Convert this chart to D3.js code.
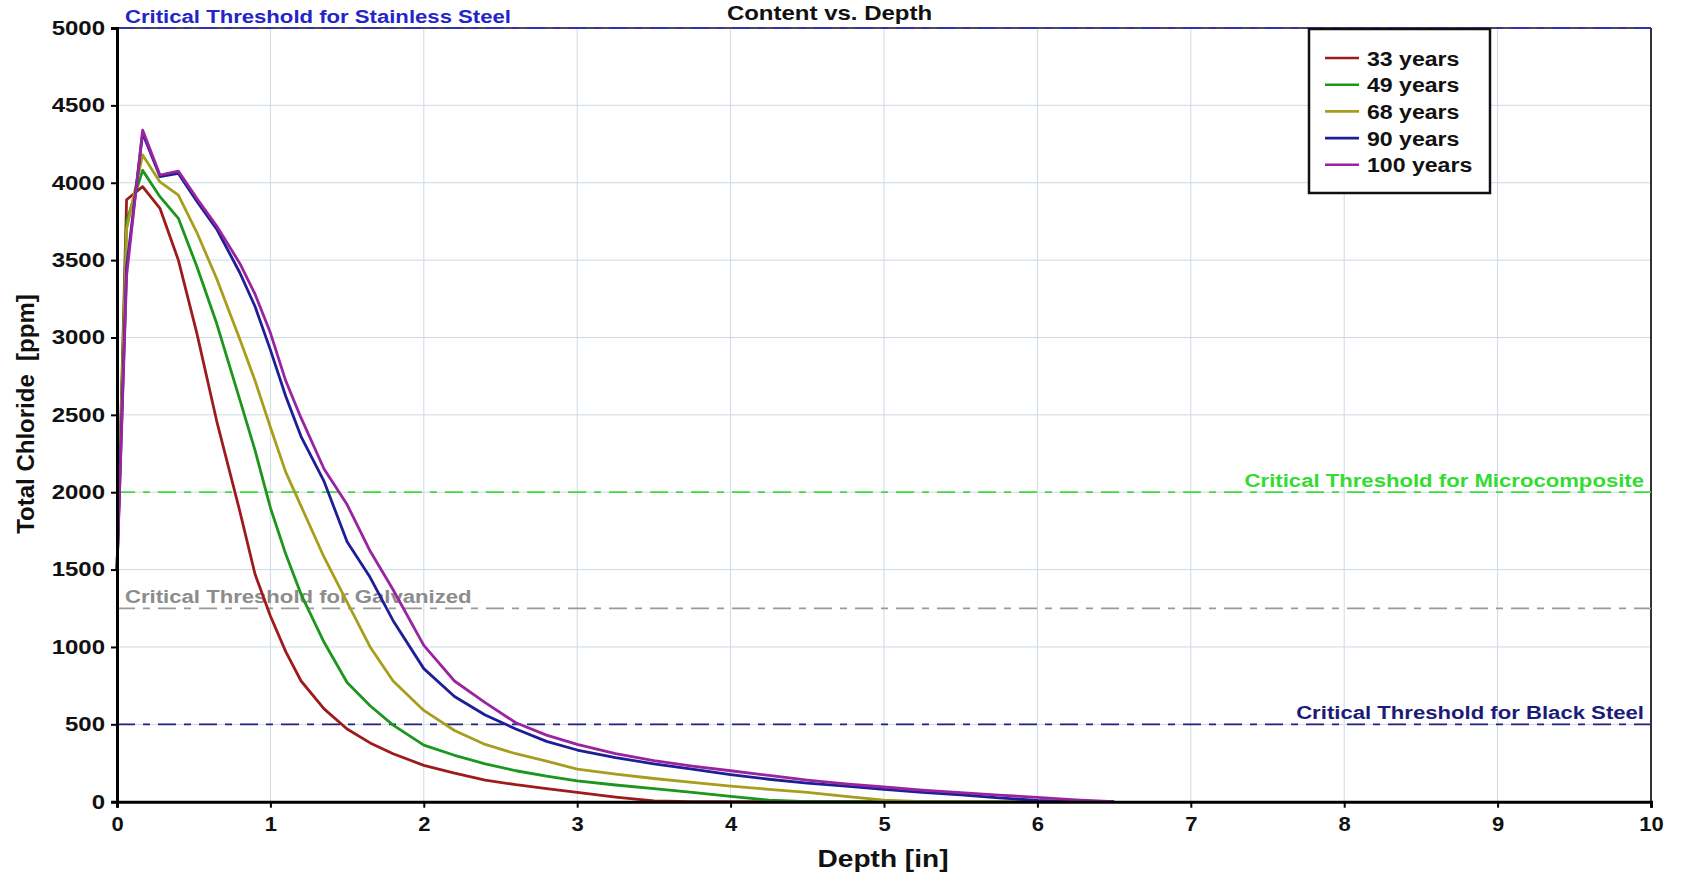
<!DOCTYPE html>
<html>
<head>
<meta charset="utf-8">
<title>Total Chloride Content vs. Depth</title>
<script src="https://d3js.org/d3.v7.min.js"></script>
<style>
  body { margin: 0; background: #fff; }
  text { font-family: Arial, "Liberation Sans", sans-serif; font-weight: bold; }
</style>
</head>
<body>
<script>
// depth nodes [in] shared by every curve
var depth = [0, 0.0625, 0.167, 0.28, 0.4, 0.52, 0.65, 0.8, 0.9, 1.0,
             1.1, 1.2, 1.35, 1.5, 1.65, 1.8, 2.0, 2.2, 2.4, 2.6,
             2.8, 3.0, 3.25, 3.5, 3.75, 4.0, 4.25, 4.5, 4.75, 5.0,
             5.25, 5.5, 5.75, 6.0, 6.25, 6.5];

// total chloride [ppm]
var chloride33 = [1500, 3890, 3975, 3835, 3500, 3030, 2460, 1880, 1470, 1200,
                  970, 780, 600, 470, 380, 310, 235, 185, 140, 110,
                  85, 60, 30, 5, 0, 0, 0, 0, 0, 0,
                  0, 0, 0, 0, 0, 0];
var chloride49 = [1500, 3750, 4080, 3910, 3770, 3460, 3090, 2600, 2270, 1900,
                  1600, 1340, 1030, 770, 620, 495, 366, 300, 245, 200,
                  165, 135, 108, 85, 60, 35, 10, 0, 0, 0,
                  0, 0, 0, 0, 0, 0];
var chloride68 = [1500, 3700, 4180, 4005, 3920, 3680, 3380, 2990, 2720, 2420,
                  2130, 1910, 1580, 1290, 1000, 780, 590, 460, 370, 310,
                  262, 210, 178, 150, 125, 100, 80, 60, 35, 10,
                  0, 0, 0, 0, 0, 0];
var chloride90 = [1500, 3450, 4320, 4040, 4060, 3880, 3700, 3420, 3200, 2920,
                  2620, 2360, 2070, 1680, 1450, 1170, 860, 680, 560, 470,
                  390, 334, 285, 245, 210, 175, 145, 120, 100, 80,
                  60, 45, 25, 8, 0, 0];
var chloride100 = [1500, 3400, 4340, 4050, 4075, 3900, 3720, 3480, 3280, 3030,
                   2720, 2480, 2150, 1920, 1620, 1370, 1010, 780, 640, 510,
                   430, 370, 310, 265, 230, 200, 170, 140, 115, 95,
                   75, 58, 42, 28, 12, 0];

var seriesNames = ["33 years", "49 years", "68 years", "90 years", "100 years"];
var seriesColors = ["#9e1b1b", "#1c961c", "#a89e1e", "#1e1e96", "#9a24a0"];

var thresholdNames = ["Critical Threshold for Stainless Steel",
                      "Critical Threshold for Microcomposite",
                      "Critical Threshold for Galvanized",
                      "Critical Threshold for Black Steel"];
var thresholdValues = [5000, 2000, 1250, 500];

var xTicks = [0, 1, 2, 3, 4, 5, 6, 7, 8, 9, 10];
var yTicks = [0, 500, 1000, 1500, 2000, 2500, 3000, 3500, 4000, 4500, 5000];

// canvas
var canvasX = 1685;
var canvasY = 880;
var plotLeft = 117, plotRight = 1651, plotTop = 28, plotBottom = 801.7;

var svg = d3.select("body").append("svg")
    .attr("width", canvasX)
    .attr("height", canvasY);

var scaleX = d3.scaleLinear().domain([0, 10]).range([plotLeft, plotRight]);
var scaleY = d3.scaleLinear().domain([0, 5000]).range([plotBottom, plotTop]);

// the original picture is stretched sideways, so is its text
function addText(x, y, str, size, anchor, color, sx) {
    return svg.append("text")
        .attr("transform", "translate(" + x + "," + y + ") scale(" + sx + ",1)")
        .attr("text-anchor", anchor)
        .attr("font-size", size)
        .attr("fill", color)
        .text(str);
}

// grid
svg.append("g").selectAll("line")
    .data(xTicks.slice(1, -1))
    .enter().append("line")
    .attr("x1", function(d) { return scaleX(d); })
    .attr("x2", function(d) { return scaleX(d); })
    .attr("y1", plotTop).attr("y2", plotBottom)
    .attr("stroke", "#cdd9e5").attr("stroke-width", 1);
svg.append("g").selectAll("line")
    .data(yTicks.slice(1, -1))
    .enter().append("line")
    .attr("x1", plotLeft).attr("x2", plotRight)
    .attr("y1", function(d) { return scaleY(d); })
    .attr("y2", function(d) { return scaleY(d); })
    .attr("stroke", "#cdd9e5").attr("stroke-width", 1);

// plot border (top and right)
svg.append("line").attr("x1", plotLeft).attr("x2", plotRight).attr("y1", plotTop).attr("y2", plotTop)
    .attr("stroke", "#4a4a5a").attr("stroke-width", 2);
svg.append("line").attr("x1", plotRight).attr("x2", plotRight).attr("y1", plotTop).attr("y2", plotBottom)
    .attr("stroke", "#333").attr("stroke-width", 2);

// threshold lines
var thrColors = ["#2a2ad0", "#3ddd3d", "#9a9a9a", "#22227e"];
svg.append("g").selectAll("line")
    .data(thresholdValues)
    .enter().append("line")
    .attr("x1", plotLeft).attr("x2", plotRight)
    .attr("y1", function(d) { return scaleY(d); })
    .attr("y2", function(d) { return scaleY(d); })
    .attr("stroke", function(d, i) { return thrColors[i]; })
    .attr("stroke-width", 1.7)
    .attr("stroke-dasharray", "18,8,7,8");

addText(125, scaleY(thresholdValues[0]) - 5, thresholdNames[0], 18, "start", "#2424c8", 1.23);
addText(1644, scaleY(thresholdValues[1]) - 5, thresholdNames[1], 18, "end", "#33dc33", 1.23);
addText(125, scaleY(thresholdValues[2]) - 5, thresholdNames[2], 18, "start", "#8c8c8c", 1.23);
addText(1644, scaleY(thresholdValues[3]) - 5, thresholdNames[3], 18, "end", "#1c1c78", 1.23);

// curves
var allSeries = [chloride33, chloride49, chloride68, chloride90, chloride100];
var line = d3.line()
    .x(function(d, i) { return scaleX(depth[i]); })
    .y(function(d) { return scaleY(d); });

svg.append("g").selectAll("path")
    .data(allSeries)
    .enter().append("path")
    .attr("d", line)
    .attr("fill", "none")
    .attr("stroke", function(d, i) { return seriesColors[i]; })
    .attr("stroke-width", 2.8)
    .attr("stroke-linejoin", "round");

// axes
var xAxis = d3.axisBottom(scaleX).tickValues(xTicks).tickSize(6).tickPadding(9)
    .tickFormat(d3.format("d"));
var yAxis = d3.axisLeft(scaleY).tickValues(yTicks).tickSize(6).tickPadding(4)
    .tickFormat(d3.format("d"));

var gx = svg.append("g")
    .attr("transform", "translate(0," + plotBottom + ")")
    .call(xAxis);
var gy = svg.append("g")
    .attr("transform", "translate(" + plotLeft + ",0)")
    .call(yAxis);

[gx, gy].forEach(function(g) {
    g.select(".domain").attr("stroke", "#000").attr("stroke-width", 3);
    g.selectAll(".tick line").attr("stroke", "#000").attr("stroke-width", 2);
    g.selectAll(".tick text")
        .attr("font-family", "Arial, 'Liberation Sans', sans-serif")
        .attr("font-weight", "bold")
        .attr("font-size", 20)
        .attr("fill", "#111");
});
gx.selectAll(".tick text").attr("transform", "scale(1.1,1)");
gy.selectAll(".tick text").attr("transform", "scale(1.2,1)");

// legend
var legX = 1309, legY = 29;
svg.append("rect")
    .attr("x", legX).attr("y", legY)
    .attr("width", 181).attr("height", 164)
    .attr("fill", "#fff")
    .attr("stroke", "#111").attr("stroke-width", 2.5);

seriesNames.forEach(function(name, i) {
    var cy = 58 + i * 26.7;
    svg.append("line")
        .attr("x1", 1325).attr("x2", 1359)
        .attr("y1", cy).attr("y2", cy)
        .attr("stroke", seriesColors[i]).attr("stroke-width", 2.6);
    addText(1367, cy + 7.5, name, 21, "start", "#111", 1.1);
});

// titles and axis labels
addText(829.5, 20, "Content vs. Depth", 20, "middle", "#111", 1.2);
addText(883, 867, "Depth [in]", 24, "middle", "#111", 1.17);

svg.append("text")
    .attr("transform", "translate(34,414) rotate(-90)")
    .attr("text-anchor", "middle")
    .attr("font-size", 24)
    .attr("fill", "#111")
    .attr("xml:space", "preserve")
    .style("white-space", "pre")
    .text("Total Chloride  [ppm]");
</script>
</body>
</html>
